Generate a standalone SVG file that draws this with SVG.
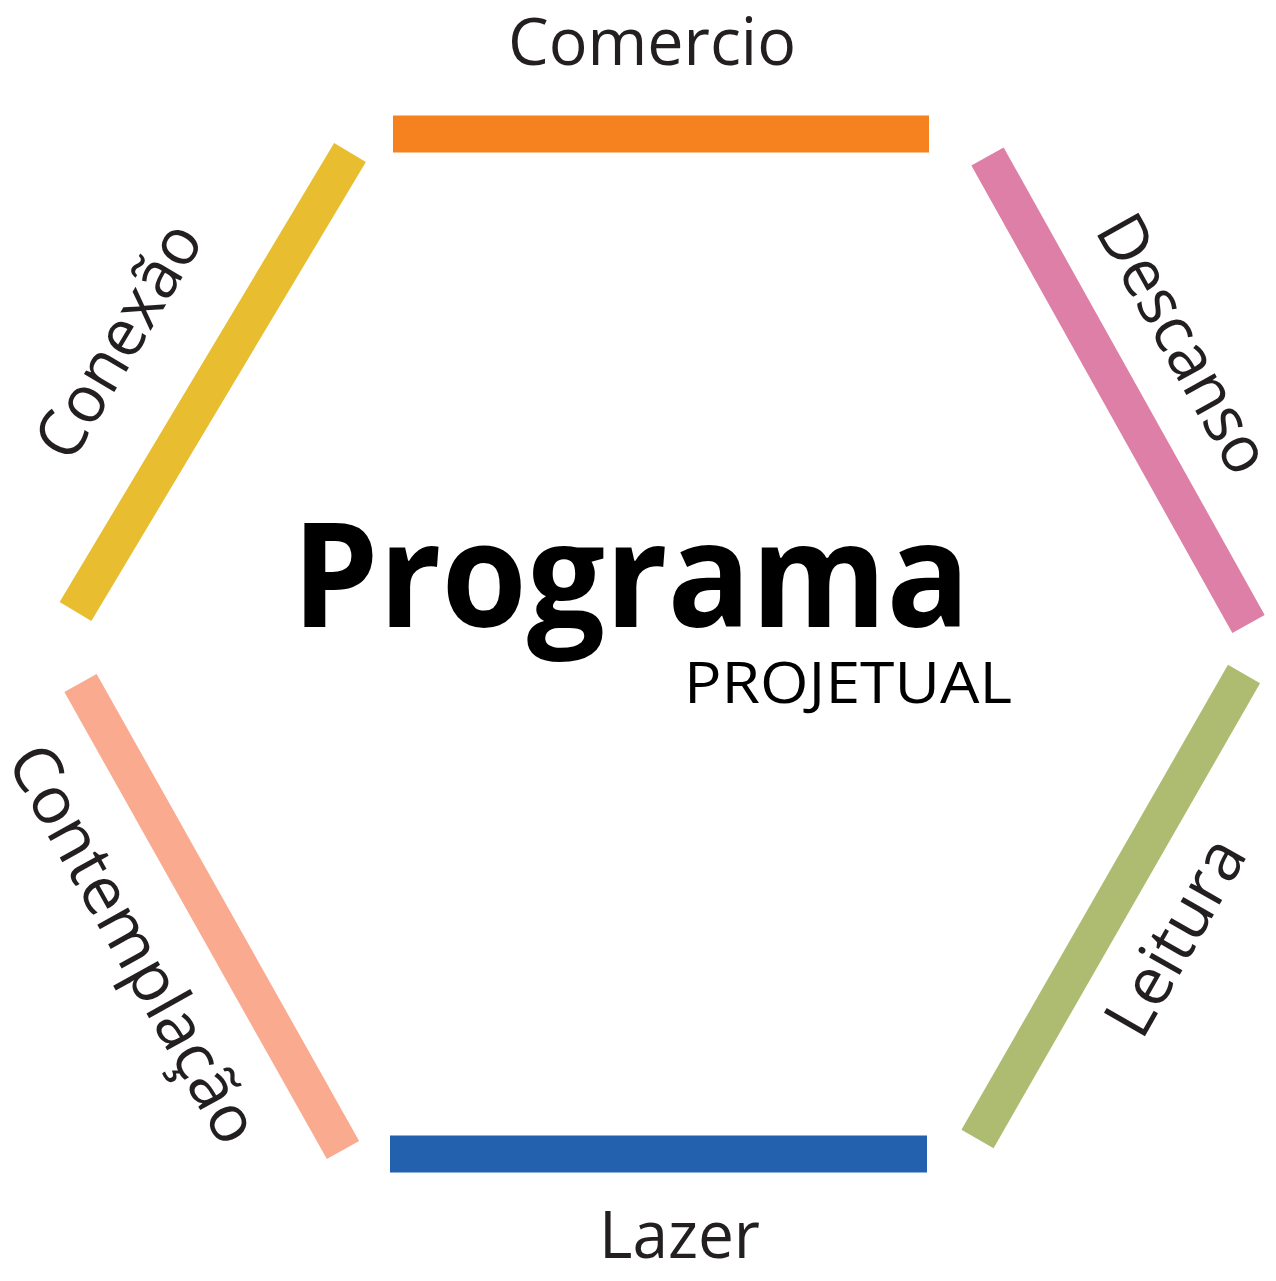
<svg xmlns="http://www.w3.org/2000/svg" width="1276" height="1281" viewBox="0 0 1276 1281">
<style>
.lbl{font-family:"Open Sans","Liberation Sans",sans-serif;font-size:66px;fill:#231F20}
.side{stroke-width:37;stroke-linecap:butt;fill:none}
</style>
<rect x="0" y="0" width="1276" height="1281" fill="#ffffff"/>
<g id="sides">
<g id="comercio">
<line class="side" x1="393" y1="134" x2="929" y2="134" stroke="#F5821F"/>
<text class="lbl" x="652" y="65" text-anchor="middle" textLength="288" lengthAdjust="spacingAndGlyphs">Comercio</text>
</g>
<g id="descanso">
<line class="side" x1="987.5" y1="156.5" x2="1248.5" y2="624" stroke="#DD7FA6"/>
<text class="lbl" transform="translate(1164,355) rotate(60.8)" text-anchor="middle" textLength="286" lengthAdjust="spacingAndGlyphs">Descanso</text>
</g>
<g id="leitura">
<line class="side" x1="1244" y1="674" x2="977.5" y2="1139" stroke="#AEBC72"/>
<text class="lbl" transform="translate(1195,948) rotate(-60.4)" text-anchor="middle">Leitura</text>
</g>
<g id="lazer">
<line class="side" x1="390" y1="1154" x2="927" y2="1154" stroke="#2360AD"/>
<text class="lbl" x="679.5" y="1258" text-anchor="middle" textLength="161" lengthAdjust="spacingAndGlyphs">Lazer</text>
</g>
<g id="contemplacao">
<line class="side" x1="80.5" y1="683" x2="343" y2="1150" stroke="#F9AA8F"/>
<text class="lbl" transform="translate(114,955) rotate(60.9)" text-anchor="middle">Contemplação</text>
</g>
<g id="conexao">
<line class="side" x1="350" y1="152.5" x2="75.5" y2="611.5" stroke="#E8BD2F"/>
<text class="lbl" transform="translate(138,352) rotate(-59.3)" text-anchor="middle" textLength="262" lengthAdjust="spacingAndGlyphs">Conexão</text>
</g>
</g>
<g id="center">
<text x="292" y="627" font-family="Open Sans, Liberation Sans, sans-serif" font-weight="700" font-size="146" fill="#000" textLength="678" lengthAdjust="spacingAndGlyphs">Programa</text>
<text x="684" y="703" font-family="Open Sans, Liberation Sans, sans-serif" font-size="56" fill="#000" textLength="328" lengthAdjust="spacingAndGlyphs">PROJETUAL</text>
</g>
</svg>
